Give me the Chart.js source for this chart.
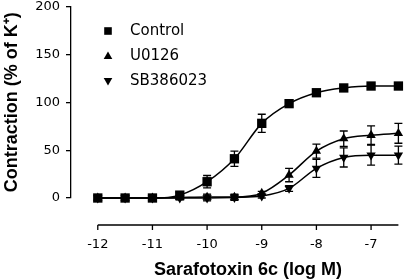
<!DOCTYPE html>
<html><head><meta charset="utf-8">
<script src="https://cdn.jsdelivr.net/npm/chart.js@4/dist/chart.umd.min.js"></script>
<style>html,body{margin:0;padding:0;background:#fff;}#wrap{width:405px;height:280px;position:relative;}</style>
</head><body><div id="wrap"><canvas id="c" width="405" height="280"></canvas></div>
<script>
const logDose = [-12, -11.5, -11, -10.5, -10, -9.5, -9, -8.5, -8, -7.5, -7, -6.5];
const controlMean = [0, 0, 0, 3, 17, 41, 78, 98.6, 110, 115, 117, 117];
const controlSem  = [0, 0, 0, 3, 6.5, 8, 9.5, 3, 2, 2, 2, 2];
const u0126Mean = [0, 0, 0, 0.5, 1, 1, 5, 24, 49, 62, 65.6, 67.6];
const u0126Sem  = [0, 0, 0, 2, 3, 3, 2, 7, 7.3, 8, 9.7, 10.4];
const sbMean = [0, 0, 0, 0, 0, 0.5, 2, 10, 31, 42.4, 44.8, 44.8];
const sbSem  = [0, 0, 0, 2, 3, 3, 2, 3, 9.4, 10, 10.4, 9.4];
const xTicks = [-12, -11, -10, -9, -8, -7];
const yTicks = [0, 50, 100, 150, 200];
const seriesNames = ['Control', 'U0126', 'SB386023'];
const xAxisTitle = 'Sarafotoxin 6c (log M)';
const yAxisTitle = 'Contraction (% of K\u207A)';

const means = [controlMean, u0126Mean, sbMean];
const sems = [controlSem, u0126Sem, sbSem];
const styles = [
  {pointStyle: 'rect', radius: 6.6, rotation: 0},
  {pointStyle: 'triangle', radius: 5.4, rotation: 0},
  {pointStyle: 'triangle', radius: 5.4, rotation: 180}
];

const datasets = seriesNames.map((name, k) => ({
  label: name,
  data: logDose.map((x, i) => ({x: x, y: means[k][i]})),
  sem: sems[k],
  borderColor: '#000',
  backgroundColor: '#000',
  borderWidth: 1.5,
  pointStyle: styles[k].pointStyle,
  pointRadius: styles[k].radius,
  pointRotation: styles[k].rotation,
  pointBorderWidth: 0,
  pointBackgroundColor: '#000',
  cubicInterpolationMode: 'monotone',
  clip: false,
  fill: false
}));

const errorBars = {
  id: 'errorBars',
  afterDatasetsDraw(chart) {
    const ctx = chart.ctx, xs = chart.scales.x, ys = chart.scales.y;
    ctx.save();
    ctx.strokeStyle = '#000';
    ctx.lineWidth = 1.3;
    chart.data.datasets.forEach(ds => {
      ds.data.forEach((p, i) => {
        const e = ds.sem[i];
        if (!e) return;
        const x = xs.getPixelForValue(p.x);
        const y1 = ys.getPixelForValue(p.y + e);
        const y2 = ys.getPixelForValue(p.y - e);
        ctx.beginPath();
        ctx.moveTo(x, y1); ctx.lineTo(x, y2);
        ctx.moveTo(x - 4, y1); ctx.lineTo(x + 4, y1);
        ctx.moveTo(x - 4, y2); ctx.lineTo(x + 4, y2);
        ctx.stroke();
      });
    });
    ctx.restore();
  }
};

const customAxis = {
  id: 'customAxis',
  afterDraw(chart) {
    const ctx = chart.ctx, xs = chart.scales.x;
    const x0 = xs.getPixelForValue(xTicks[0]);
    const x1 = xs.getPixelForValue(-6.5);
    const yLine = 225;
    ctx.save();
    ctx.strokeStyle = '#000';
    ctx.lineWidth = 1.3;
    ctx.beginPath();
    ctx.moveTo(x0, yLine); ctx.lineTo(x1, yLine);
    xTicks.forEach(v => {
      const x = xs.getPixelForValue(v);
      ctx.moveTo(x, yLine); ctx.lineTo(x, yLine + 5);
    });
    ctx.stroke();
    ctx.fillStyle = '#000';
    ctx.font = 'bold 18px "Liberation Sans", Arial, sans-serif';
    ctx.textAlign = 'center';
    ctx.textBaseline = 'alphabetic';
    ctx.fillText(xAxisTitle, (x0 + x1) / 2, 275);

    // legend
    ctx.font = '15px "DejaVu Sans", sans-serif';
    ctx.textAlign = 'left';
    ctx.textBaseline = 'middle';
    const lx = 108, rows = [31, 56, 81];
    seriesNames.forEach((name, k) => {
      const y = rows[k];
      ctx.beginPath();
      if (k === 0) {
        ctx.rect(lx - 3.8, y - 3.8, 7.6, 7.6);
      } else if (k === 1) {
        ctx.moveTo(lx, y - 4.5); ctx.lineTo(lx + 4.3, y + 3); ctx.lineTo(lx - 4.3, y + 3); ctx.closePath();
      } else {
        ctx.moveTo(lx, y + 4.5); ctx.lineTo(lx + 4.3, y - 3); ctx.lineTo(lx - 4.3, y - 3); ctx.closePath();
      }
      ctx.fill();
      ctx.fillText(name, 130, y);
    });
    ctx.restore();
  }
};

new Chart(document.getElementById('c'), {
  type: 'line',
  data: {datasets: datasets},
  options: {
    responsive: false,
    animation: false,
    devicePixelRatio: 1,
    layout: {padding: {top: 6, right: 5.5, left: 0, bottom: 0}},
    plugins: {legend: {display: false}, tooltip: {enabled: false}},
    scales: {
      x: {
        type: 'linear', min: -12.49, max: -6.5,
        afterBuildTicks: s => { s.ticks = xTicks.map(v => ({value: v})); },
        ticks: {font: {family: 'DejaVu Sans', size: 13}, color: '#000', padding: 3, maxRotation: 0, autoSkip: false, callback: v => String(v)},
        grid: {display: true, drawOnChartArea: false, drawTicks: true, tickLength: 36, color: 'rgba(0,0,0,0)'},
        border: {display: false},
        afterFit: s => { s.height = 82; s.paddingLeft = 0; s.paddingRight = 0; }
      },
      y: {
        min: 0, max: 200,
        afterBuildTicks: s => { s.ticks = yTicks.map(v => ({value: v})); },
        ticks: {font: {family: 'DejaVu Sans', size: 13}, color: '#000', padding: 6, callback: v => String(v)},
        grid: {drawOnChartArea: false, drawTicks: true, tickLength: 5, color: '#000', lineWidth: 1.3},
        border: {display: true, color: '#000', width: 1.3},
        title: {display: true, text: yAxisTitle, color: '#000', font: {family: '"Liberation Sans", Arial, sans-serif', weight: 'bold', size: 18}, padding: {top: 1, bottom: 0}},
        afterFit: s => { s.width = 71; s.paddingTop = 0; s.paddingBottom = 0; }
      }
    }
  },
  plugins: [errorBars, customAxis]
});
</script></body></html>
